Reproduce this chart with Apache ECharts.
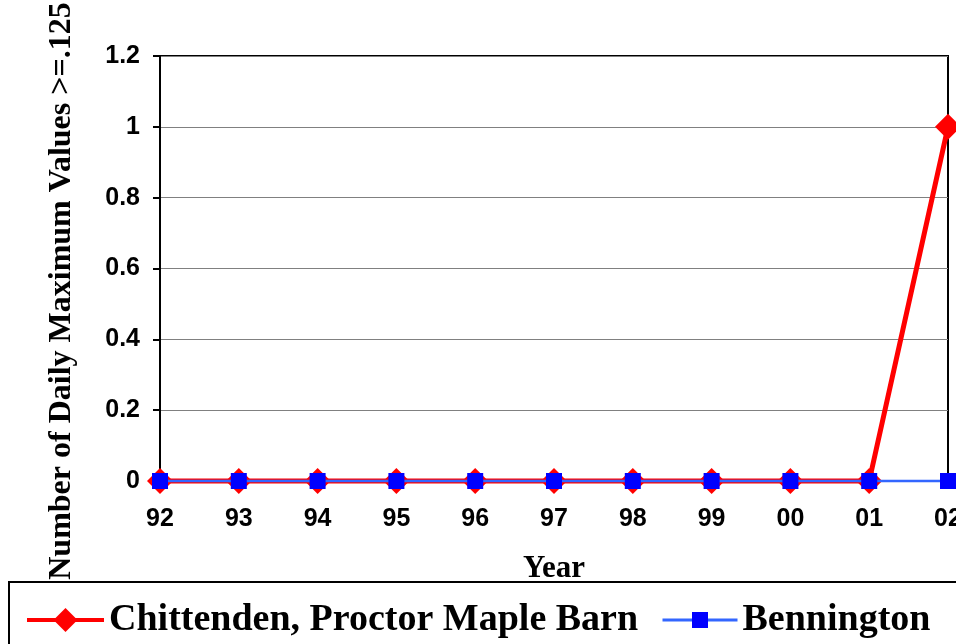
<!DOCTYPE html>
<html><head><meta charset="utf-8">
<script src="https://cdn.jsdelivr.net/npm/echarts@6/dist/echarts.min.js"></script>
<style>html,body{margin:0;padding:0;background:#fff;overflow:hidden}#c{width:956px;height:644px}</style>
</head><body><div id="c"></div>
<script>
const categories = ['92','93','94','95','96','97','98','99','00','01','02'];
const chittenden = [0,0,0,0,0,0,0,0,0,0,1];
const bennington = [0,0,0,0,0,0,0,0,0,0,0];
const yTicks = {min:0, max:1.2, interval:0.2};
const seriesNames = ['Chittenden, Proctor Maple Barn','Bennington'];

const chart = echarts.init(document.getElementById('c'), null, {renderer:'canvas'});
const legendText = {color:'#000', fontFamily:'Liberation Serif', fontWeight:'bold', fontSize:38};
chart.setOption({
  animation:false,
  backgroundColor:'#fff',
  grid:{left:160, right:8, top:56, bottom:163, containLabel:false, outerBoundsMode:'none',
    show:true, borderColor:'#000', borderWidth:2, backgroundColor:'transparent'},
  xAxis:{type:'category', data:categories, boundaryGap:false,
    axisLine:{lineStyle:{color:'#000', width:2}},
    axisTick:{show:false},
    axisLabel:{color:'#000', fontFamily:'Liberation Sans', fontWeight:'bold', fontSize:25, margin:26},
    splitLine:{show:false},
    name:'Year', nameLocation:'middle', nameGap:72,
    nameTextStyle:{color:'#000', fontFamily:'Liberation Serif', fontWeight:'bold', fontSize:31, padding:[0,0,0,0]}
  },
  yAxis:{type:'value', min:yTicks.min, max:yTicks.max, interval:yTicks.interval,
    axisLine:{show:true, lineStyle:{color:'#000', width:2}},
    axisTick:{show:true, inside:false, length:7, lineStyle:{color:'#000', width:2}},
    axisLabel:{color:'#000', fontFamily:'Liberation Sans', fontWeight:'bold', fontSize:25, margin:20,
      formatter:v=>String(Math.round(v*10)/10)},
    splitLine:{show:true, lineStyle:{color:'#808080', width:1}},
    name:'Number of Daily Maximum Values >=.125', nameLocation:'middle', nameGap:82, nameRotate:90,
    nameTextStyle:{color:'#000', fontFamily:'Liberation Serif', fontWeight:'bold', fontSize:32, padding:[0,45,0,0]}
  },
  legend:[
    {left:20, top:596, itemWidth:77, itemHeight:30, itemGap:0, textStyle:legendText,
      lineStyle:{width:4}, data:[seriesNames[0]]},
    {left:656, top:596, itemWidth:75, itemHeight:20, itemGap:0, textStyle:legendText,
      lineStyle:{width:3}, data:[seriesNames[1]]}
  ],
  graphic:[{type:'rect', shape:{x:9, y:582, width:960, height:80}, style:{fill:'none', stroke:'#000', lineWidth:2}, z:-1}],
  series:[
    {name:seriesNames[0], type:'line', data:chittenden, clip:false,
      symbol:'diamond', symbolSize:26, lineStyle:{color:'#ff0000', width:5}, itemStyle:{color:'#ff0000'}, z:2},
    {name:seriesNames[1], type:'line', data:bennington, clip:false,
      symbol:'rect', symbolSize:16, lineStyle:{color:'#3366ff', width:2.5}, itemStyle:{color:'#0000ff'}, z:3}
  ]
});
</script></body></html>
